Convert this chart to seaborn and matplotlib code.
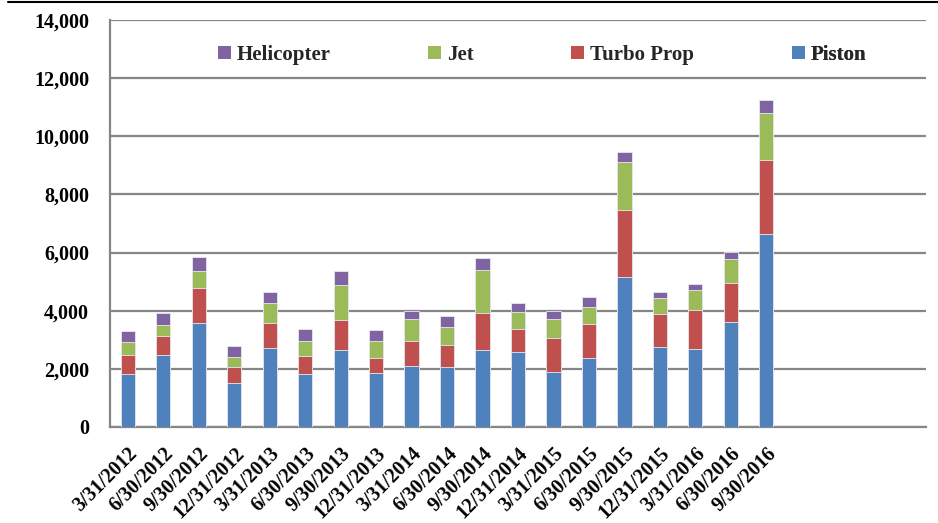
import matplotlib
matplotlib.use("Agg")
import matplotlib.pyplot as plt
import seaborn as sns
import pandas as pd
import numpy as np
from matplotlib.patches import Patch
from matplotlib.lines import Line2D

dates = ["3/31/2012", "6/30/2012", "9/30/2012", "12/31/2012", "3/31/2013", "6/30/2013",
         "9/30/2013", "12/31/2013", "3/31/2014", "6/30/2014", "9/30/2014", "12/31/2014",
         "3/31/2015", "6/30/2015", "9/30/2015", "12/31/2015", "3/31/2016", "6/30/2016",
         "9/30/2016"]
empty_slots = ["", " ", "  ", "   "]

piston = [1820, 2460, 3590, 1520, 2710, 1840, 2650, 1860, 2090, 2070, 2650, 2580,
          1880, 2390, 5170, 2740, 2670, 3620, 6655]
turbo_prop = [660, 680, 1200, 550, 870, 600, 1040, 520, 870, 760, 1270, 780,
              1170, 1160, 2280, 1150, 1370, 1350, 2520]
jet = [430, 370, 580, 330, 680, 520, 1200, 580, 770, 610, 1490, 600,
       670, 580, 1670, 540, 670, 820, 1610]
helicopter = [380, 420, 490, 370, 400, 420, 470, 380, 250, 370, 400, 320,
              270, 340, 330, 210, 210, 240, 460]

series = ["Piston", "Turbo Prop", "Jet", "Helicopter"]
colors = {"Piston": "#4F81BD", "Turbo Prop": "#C0504D", "Jet": "#9BBB59", "Helicopter": "#8064A2"}

df = pd.DataFrame({"date": dates, "Piston": piston, "Turbo Prop": turbo_prop,
                   "Jet": jet, "Helicopter": helicopter})
cum = df[series].cumsum(axis=1)
cum["date"] = df["date"]

order = dates + empty_slots

sns.set_theme(style="white")
plt.rcParams["font.family"] = ["Liberation Serif", "DejaVu Serif"]
plt.rcParams["font.weight"] = "bold"

fig = plt.figure(figsize=(9.38, 5.23), dpi=100)
ax = fig.add_axes([110/938, 1 - 427/523, 816/938, 407/523])

for s in reversed(series):
    sns.barplot(data=cum, x="date", y=s, order=order, color=colors[s], width=0.4,
                edgecolor="#e8e8f0", linewidth=0.6, saturation=1, ax=ax, zorder=3)

ax.set_ylim(0, 14000)
ax.set_xlim(-0.5, len(order) - 0.5)
ax.set_yticks(np.arange(0, 14001, 2000))
ax.set_yticklabels([f"{v:,}" for v in range(0, 14001, 2000)], fontsize=14.5, fontweight="bold")
ax.yaxis.grid(True, color="#868686", linewidth=1.6, zorder=0)
ax.set_axisbelow(True)
ax.set_xlabel("")
ax.set_ylabel("")

ax.set_xticks(range(len(order)))
ax.set_xticklabels(dates + [""] * len(empty_slots), rotation=45, ha="right",
                   rotation_mode="anchor", fontsize=14.5, fontweight="bold")
ax.tick_params(axis="x", which="major", length=0, pad=12)
ax.set_xticks(np.arange(-0.5, len(order), 1.0), minor=True)
ax.tick_params(axis="x", which="minor", length=5, width=1.5, color="#868686", direction="out")
ax.tick_params(axis="y", length=5, width=1.5, color="#868686", direction="out", pad=10)
ax.tick_params(labelcolor="black")

for side in ["top", "right"]:
    ax.spines[side].set_visible(False)
for side in ["left", "bottom"]:
    ax.spines[side].set_color("#868686")
    ax.spines[side].set_linewidth(1.6)

legend_items = [("Helicopter", 218), ("Jet", 428), ("Turbo Prop", 571), ("Piston", 792)]
for name, px in legend_items:
    leg = ax.legend(handles=[Patch(facecolor=colors[name], edgecolor="none", label=name)],
                    loc="center left", bbox_to_anchor=((px - 110) / 816, (427 - 55) / 407),
                    frameon=False, handlelength=0.6, handleheight=0.6,
                    handletextpad=0.3, borderpad=0, borderaxespad=0,
                    prop={"weight": "bold", "size": 15})
    ax.add_artist(leg)

fig.add_artist(Line2D([8/938, 1.0], [1 - 1.5/523, 1 - 1.5/523], color="black", linewidth=1.5))

fig.savefig("out.png", dpi=100)
